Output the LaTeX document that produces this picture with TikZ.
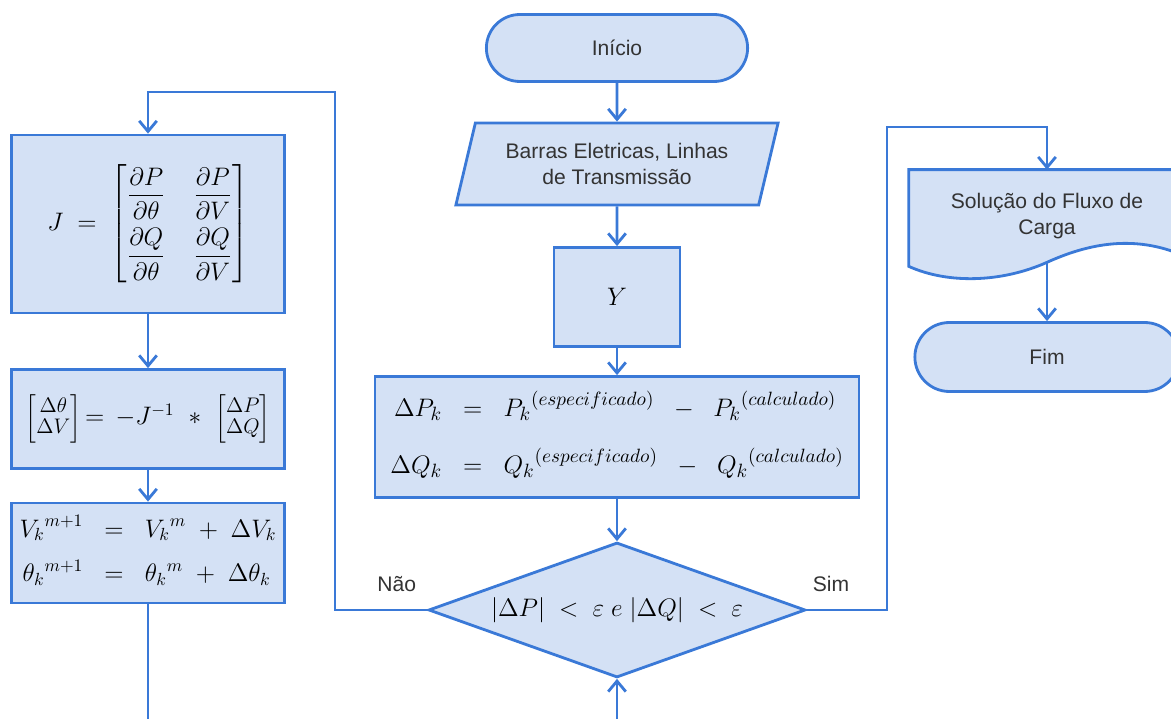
\documentclass[tikz,border=0pt]{standalone}
\usepackage{amsmath,amssymb}
\usepackage[no-math]{fontspec}
\usepackage{tikz}
\usetikzlibrary{shapes.geometric,shapes.misc,positioning,arrows.meta,calc,backgrounds}

\newfontfamily\rotfont{Liberation Sans}
\definecolor{azul}{RGB}{58,121,215}
\definecolor{azulclaro}{RGB}{212,225,245}
\definecolor{cinza}{RGB}{51,51,51}

\begin{document}
\begin{tikzpicture}[x=0.02cm, y=-0.02cm,
    caixa/.style={draw=azul, fill=azulclaro, line width=1.6pt},
    texto/.style={text=cinza, font=\rotfont\fontsize{12}{14.5}\selectfont, align=center},
    terminal/.style={caixa, texto, rounded rectangle, minimum width=5.46cm, minimum height=1.34cm},
    entrada/.style={caixa, texto, trapezium, trapezium left angle=73, trapezium right angle=107,
      trapezium stretches=true, minimum width=6.46cm, minimum height=1.64cm},
    processo/.style={caixa, rectangle, font=\fontsize{14}{17}\selectfont, inner sep=2pt},
    decisao/.style={caixa, diamond, aspect=2.8, minimum width=7.54cm, minimum height=2.7cm,
      font=\fontsize{14}{17}\selectfont, inner sep=0pt},
    rotulo/.style={texto},
    seta/.style={draw=azul, line width=1.6pt, -{Straight Barb[length=6pt, width=10pt]}}]

   \useasboundingbox (0,0) rectangle (1171,719);

   % coluna central
   \node[terminal] (inicio) at (617,48) {Início};
   \node[entrada] (dados) at (617,164) {Barras Eletricas, Linhas\\de Transmissão};
   \node[processo, minimum width=2.52cm, minimum height=1.98cm] (ybus) at (617,297) {$Y$};
   \node[processo, minimum width=9.68cm, minimum height=2.42cm, font=\fontsize{15}{18}\selectfont] (desvio) at (617,437)
      {$\begin{aligned}
        \Delta P_k \;\;&=\;\; P_k{}^{(especificado)} \;\;-\;\; P_k{}^{(calculado)}\\[9pt]
        \Delta Q_k \;\;&=\;\; Q_k{}^{(especificado)} \;\;-\;\; Q_k{}^{(calculado)}
      \end{aligned}$};
   \node[decisao] (teste) at (617,610)
      {$|\Delta P| \;<\; \varepsilon\; e\; |\Delta Q| \;<\; \varepsilon$};

   % coluna da esquerda
   \node[processo, minimum width=5.46cm, minimum height=3.56cm] (jacob) at (148,224)
      {\setlength{\arraycolsep}{8pt}$J \;=\; \begin{bmatrix}
        \dfrac{\partial P}{\partial \theta} & \dfrac{\partial P}{\partial V}\\ \noalign{\vskip 5pt}
        \dfrac{\partial Q}{\partial \theta} & \dfrac{\partial Q}{\partial V}
      \end{bmatrix}$};
   \node[processo, minimum width=5.46cm, minimum height=1.98cm] (corr) at (148,419)
      {\mbox{\fontsize{11.5}{12}\selectfont$\begin{bmatrix}\Delta\theta\\ \Delta V\end{bmatrix}$}$\,=\,-J^{-1}\;\;\ast\;\;$\mbox{\fontsize{11.5}{12}\selectfont$\begin{bmatrix}\Delta P\\ \Delta Q\end{bmatrix}$}};
   \node[processo, minimum width=5.46cm, minimum height=2cm] (atual) at (148,553)
      {$\begin{aligned}
        V_k{}^{m+1} \;\;&=\;\; V_k{}^{m} \;+\; \Delta V_k\\[4pt]
        \theta_k{}^{m+1} \;\;&=\;\; \theta_k{}^{m} \;+\; \Delta\theta_k
      \end{aligned}$};

   % coluna da direita
   \node[texto, minimum width=5.52cm, minimum height=1.84cm] (sol) at (1047,216) {Solução do Fluxo de\\Carga};
   \node[terminal, minimum width=5.52cm, minimum height=1.38cm] (fim) at (1047,357) {Fim};

   \begin{scope}[on background layer]
     \filldraw[caixa] (sol.north west) -- (sol.north east) -- ($(sol.south east)+(0,-6)$)
        .. controls ($(sol.south east)+(-45,-26)$) and ($(sol.south east)+(-90,-22)$) .. (sol.south)
        .. controls ($(sol.south)+(-45,20)$) and ($(sol.south west)+(40,22)$) .. ($(sol.south west)+(0,4)$)
        -- cycle;
   \end{scope}

   \coordinate (voltaE) at (335,92);
   \coordinate (voltaD) at (887,127);
   \coordinate (laco) at (380,760);

   \path
      (inicio.south) edge[seta] (dados.north)
      (dados.south) edge[seta] (ybus.north)
      (ybus.south) edge[seta] (desvio.north)
      (desvio.south) edge[seta] (teste.north)
      (jacob.south) edge[seta] (corr.north)
      (corr.south) edge[seta] (atual.north)
      (sol.south) edge[seta] (fim.north);
   \draw[seta] (teste.west) -- node[rotulo, above=6pt, pos=.33] {Não} (teste.west -| voltaE)
      -- (voltaE) -| (jacob.north);
   \draw[seta] (teste.east) -- node[rotulo, above=6pt, pos=.3] {Sim} (teste.east -| voltaD)
      -- (voltaD) -| (sol.north);
   \draw[seta] (atual.south) |- (laco) -| (teste.south);
\end{tikzpicture}
\end{document}
